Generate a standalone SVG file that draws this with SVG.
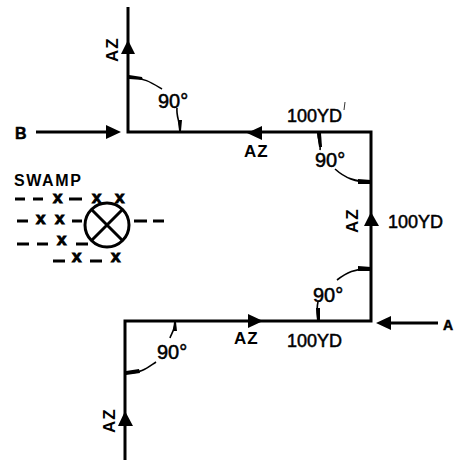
<svg xmlns="http://www.w3.org/2000/svg" width="454" height="461" viewBox="0 0 454 461">
<defs>
<style>
.l{fill:none;stroke:#000;stroke-width:3}
.t{fill:none;stroke:#000;stroke-width:1.6}
.d{fill:none;stroke:#000;stroke-width:3}
.h{fill:#000}
text{font-family:"Liberation Sans",Arial,sans-serif;fill:#000;stroke:#000;stroke-width:.5;font-size:18px}
.az{font-size:17px;font-weight:bold;stroke-width:0;letter-spacing:1px}
.deg{font-size:20px}
.ltr{font-size:16px;font-weight:bold}
.sw{font-size:16px;font-weight:bold;stroke-width:0;letter-spacing:1.6px}
.x{font-size:17px;font-weight:bold;stroke-width:1}
</style>
</defs>
<rect width="454" height="461" fill="#fff"/>
<g id="connectors">
<path class="l" d="M128 7V132H371V321H125V460"/>
<path class="l" d="M36 132H110"/>
<path class="l" d="M388 323H438"/>
<polygon class="h" points="121,54 135,54 128,40"/>
<polygon class="h" points="121,132 106,125 106,139"/>
<polygon class="h" points="247,133 262,126 262,140"/>
<polygon class="h" points="364,226 379,226 371,212"/>
<polygon class="h" points="263,321 248,314 248,328"/>
<polygon class="h" points="376,323 391,316 391,330"/>
<polygon class="h" points="118,426 133,426 125,411"/>
<path class="t" d="M129 77C145 78 152 83 162 89"/>
<path class="t" d="M177 108C176 116 180 122 180 131"/>
<path class="t" d="M318 133C318 140 321 146 320 150"/>
<path class="t" d="M335 169C345 178 355 182 371 182"/>
<path class="t" d="M371 269C355 268 346 273 337 280"/>
<path class="t" d="M318 302C316 310 318 316 318 321"/>
<path class="t" d="M175 322C175 330 171 334 170 338"/>
<path class="t" d="M126 373C142 373 147 368 156 362"/>
<path d="M345 102L344 110" fill="none" stroke="#000" stroke-width=".8"/>
<polygon class="h" points="129,75 142,77 143,80 129,79"/>
<polygon class="h" points="178,120 182,120 181,131 179,131"/>
<polygon class="h" points="317,133 321,133 322,147 319,147"/>
<polygon class="h" points="358,179 371,180 371,184 358,184"/>
<polygon class="h" points="358,266 371,267 371,271 358,271"/>
<polygon class="h" points="316,308 320,308 320,321 317,321"/>
<polygon class="h" points="173,331 177,331 176,322 174,322"/>
<polygon class="h" points="126,371 139,369 140,373 126,375"/>
</g>
<g id="swamp">
<text class="sw" x="14" y="186">SWAMP</text>
<circle class="d" cx="107" cy="225" r="22"/>
<path class="d" d="M92 210L122 240M122 210L92 240"/>
<path class="d" d="M15 199H25M33 199H43M69 199H82M17 221H28M72 221H82M134 221H147M153 221H164M17 244H29M37 244H48M76 244H88M53 261H65M90 261H102"/>
<text class="x" x="53" y="203">x</text><text class="x" x="92" y="203">x</text><text class="x" x="115" y="203">x</text>
<text class="x" x="36" y="224">x</text><text class="x" x="55" y="224">x</text>
<text class="x" x="57" y="245">x</text>
<text class="x" x="72" y="262">x</text><text class="x" x="111" y="262">x</text>
</g>
<g id="labels">
<text class="ltr" x="15" y="139">B</text>
<text class="ltr" x="443" y="330" style="font-size:14px">A</text>
<text class="az" transform="translate(118 62) rotate(-90)">AZ</text>
<text class="deg" x="158" y="108">90°</text>
<text class="az" x="244" y="157">AZ</text>
<text x="287" y="122">100YD</text>
<text class="deg" x="315" y="167">90°</text>
<text class="az" transform="translate(358 233) rotate(-90)">AZ</text>
<text x="388" y="228">100YD</text>
<text class="deg" x="313" y="302">90°</text>
<text class="az" x="234" y="344">AZ</text>
<text x="287" y="347">100YD</text>
<text class="deg" x="157" y="359">90°</text>
<text class="az" transform="translate(115 433) rotate(-90)">AZ</text>
</g>
</svg>
